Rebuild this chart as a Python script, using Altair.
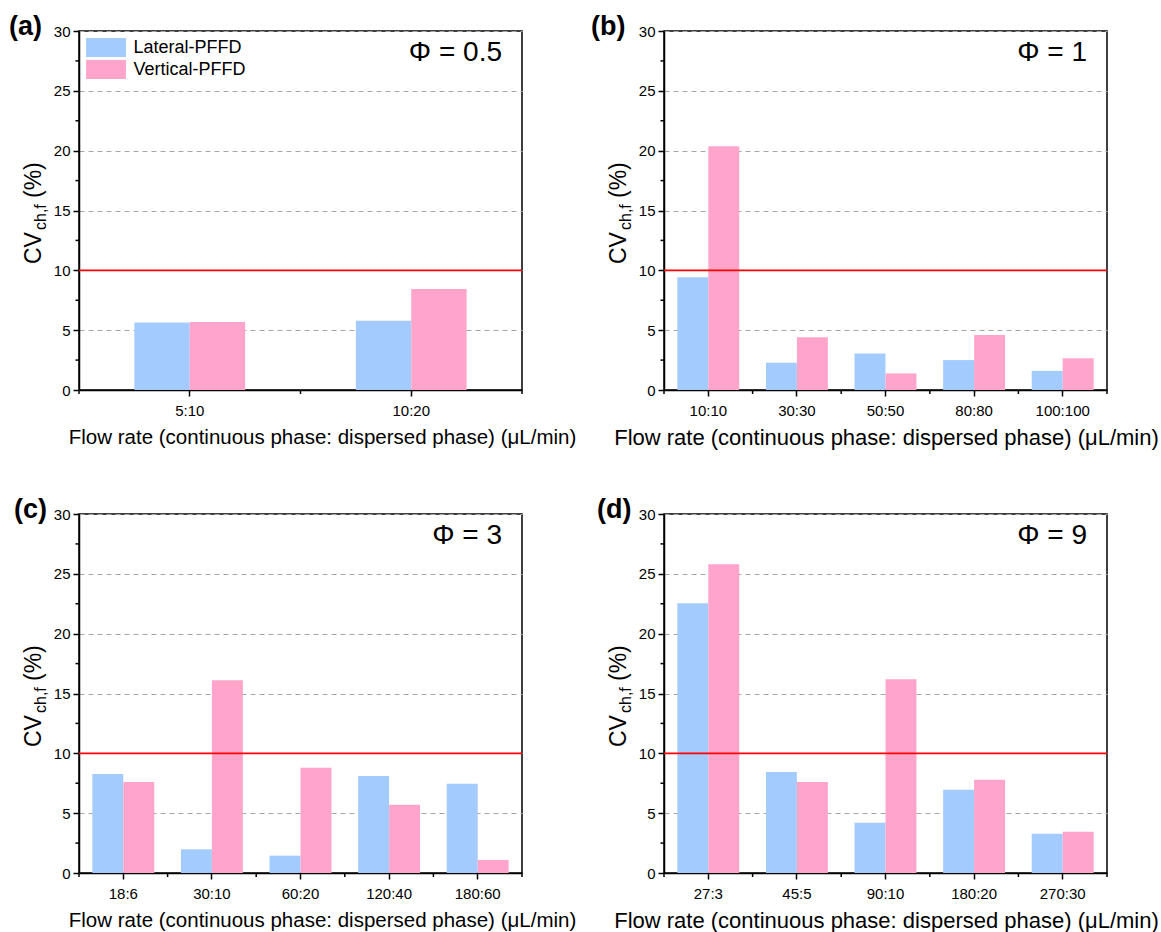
import altair as alt
import pandas as pd

FONT = "Liberation Sans"
series = ["Lateral-PFFD", "Vertical-PFFD"]
colors = ["#a4cbfd", "#ffa5cb"]
threshold = 10

a_cats = ["5:10", "10:20"]
a_lat = [5.64, 5.78]
a_ver = [5.68, 8.44]

b_cats = ["10:10", "30:30", "50:50", "80:80", "100:100"]
b_lat = [9.42, 2.27, 3.05, 2.50, 1.60]
b_ver = [20.36, 4.40, 1.39, 4.60, 2.65]

c_cats = ["18:6", "30:10", "60:20", "120:40", "180:60"]
c_lat = [8.27, 1.98, 1.45, 8.10, 7.45]
c_ver = [7.60, 16.10, 8.80, 5.70, 1.09]

d_cats = ["27:3", "45:5", "90:10", "180:20", "270:30"]
d_lat = [22.55, 8.45, 4.20, 6.95, 3.27]
d_ver = [25.80, 7.60, 16.20, 7.80, 3.45]

y_major = [0, 5, 10, 15, 20, 25, 30]
y_minor = [2.5, 7.5, 12.5, 17.5, 22.5, 27.5]
x_title = "Flow rate (continuous phase: dispersed phase) (\u03bcL/min)"

W, H = 443, 359


def panel(cats, lat, ver, phi, tag, tag_x, pad_outer, title_x, title_fs, first=False):
    df = pd.DataFrame({
        "cat": cats * 2,
        "series": [series[0]] * len(cats) + [series[1]] * len(cats),
        "value": lat + ver,
    })
    one = pd.DataFrame({"k": [0]})
    if first:
        legend = alt.Legend(
            title=None, orient="top-left", offset=7, padding=0,
            symbolType="M-2.1,-1H2.1V1H-2.1Z", symbolSize=361,
            symbolStrokeWidth=0, symbolOffset=10.5, labelOffset=18,
            labelFont=FONT, labelFontSize=18, labelColor="black",
            rowPadding=3,
        )
    else:
        legend = None
    bars = alt.Chart(df).mark_bar().encode(
        x=alt.X("cat:N", sort=cats,
                scale=alt.Scale(paddingInner=0, paddingOuter=0),
                axis=alt.Axis(title=x_title, labelAngle=0, labelFont=FONT,
                              labelFontSize=15, labelColor="black",
                              tickSize=6, labelPadding=7,
                              titleFont=FONT, titleFontSize=title_fs,
                              titleFontWeight="normal", titleColor="black",
                              titlePadding=9, titleX=title_x,
                              titleAnchor="middle", titleAlign="center",
                              domainColor="black", domainWidth=1.5,
                              tickColor="black", tickWidth=1.5)),
        xOffset=alt.XOffset("series:N", sort=series,
                            scale=alt.Scale(paddingInner=0, paddingOuter=pad_outer)),
        y=alt.Y("value:Q",
                scale=alt.Scale(domain=[0, 30], nice=False, zero=True),
                axis=alt.Axis(title=None, values=y_major, grid=True,
                              gridColor="#a6a6a6", gridDash=[5, 4], gridWidth=1,
                              labelFont=FONT, labelFontSize=15,
                              labelColor="black", tickSize=6, labelPadding=3,
                              domainColor="black", domainWidth=1.5,
                              tickColor="black", tickWidth=1.5)),
        color=alt.Color("series:N", sort=series,
                        scale=alt.Scale(domain=series, range=colors),
                        legend=legend),
    )
    red = alt.Chart(pd.DataFrame({"t": [threshold]})).mark_rule(
        color="#ff0000", strokeWidth=1.6).encode(y="t:Q")
    ymin = alt.Chart(pd.DataFrame({"m": y_minor})).mark_rule(
        color="black", strokeWidth=1.5).encode(
        y="m:Q", x=alt.value(-3.5), x2=alt.value(0))
    xmin = alt.Chart(pd.DataFrame({"cat": cats})).mark_rule(
        color="black", strokeWidth=1.5).encode(
        x=alt.X("cat:N", sort=cats, bandPosition=0),
        y=alt.value(H), y2=alt.value(H + 4))
    xend = alt.Chart(one).mark_rule(color="black", strokeWidth=1.5).encode(
        x=alt.value(W), y=alt.value(H), y2=alt.value(H + 4))
    phi_t = alt.Chart(one).mark_text(
        text=phi, align="right", baseline="middle", font=FONT, fontSize=28,
        color="black").encode(x=alt.value(W - 20), y=alt.value(22))
    tag_t = alt.Chart(one).mark_text(
        text=tag, align="left", baseline="middle", font=FONT, fontSize=27,
        fontWeight="bold", color="black").encode(x=alt.value(tag_x), y=alt.value(-4))
    yt1 = alt.Chart(one).mark_text(
        text="CV", angle=270, align="left", baseline="alphabetic", font=FONT,
        fontSize=23, color="black").encode(x=alt.value(-38), y=alt.value(233))
    yt2 = alt.Chart(one).mark_text(
        text="ch,f", angle=270, align="left", baseline="alphabetic", font=FONT,
        fontSize=16, color="black").encode(x=alt.value(-33), y=alt.value(199))
    yt3 = alt.Chart(one).mark_text(
        text="(%)", angle=270, align="left", baseline="alphabetic", font=FONT,
        fontSize=23, color="black").encode(x=alt.value(-38), y=alt.value(167))
    layers = [bars, red, ymin, xmin, xend, phi_t, tag_t, yt1, yt2, yt3]
    if first:
        anchor = alt.Chart(one).mark_rect(opacity=0).encode(
            x=alt.value(-78), x2=alt.value(-77), y=alt.value(-30), y2=alt.value(-29))
        layers.append(anchor)
    return alt.layer(*layers).properties(width=W, height=H)


pa = panel(a_cats, a_lat, a_ver, "\u03a6 = 0.5", "(a)", -70, 1.0, 243, 20.5, first=True)
pb = panel(b_cats, b_lat, b_ver, "\u03a6 = 1", "(b)", -73, 0.43, 222, 22)
pc = panel(c_cats, c_lat, c_ver, "\u03a6 = 3", "(c)", -65, 0.43, 243, 20.5)
pd_ = panel(d_cats, d_lat, d_ver, "\u03a6 = 9", "(d)", -67, 0.43, 222, 22)

chart = alt.concat(
    pa, pb, pc, pd_, columns=2, bounds="flush",
    spacing={"row": 124, "column": 142},
).resolve_scale(
    color="independent", xOffset="independent", x="independent", y="independent"
).properties(padding=0, background="white").configure_view(
    stroke="black", strokeWidth=1.5)

chart.save("out.html", embed_options={"renderer": "svg", "actions": False})
